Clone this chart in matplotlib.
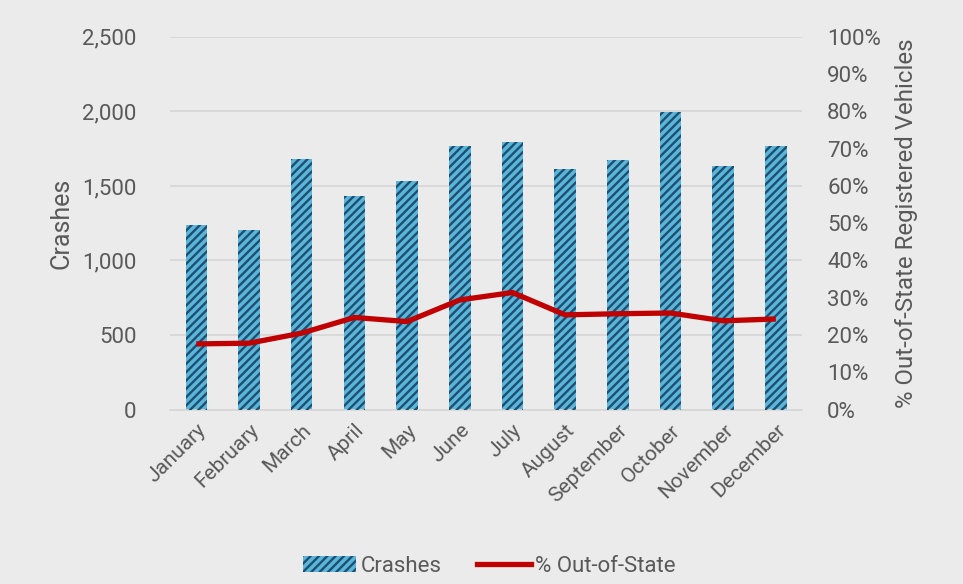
import matplotlib
matplotlib.use("Agg")
import matplotlib.pyplot as plt
from matplotlib.patches import Patch
from matplotlib.lines import Line2D
from matplotlib.ticker import FuncFormatter, MultipleLocator

months = ["January", "February", "March", "April", "May", "June", "July",
          "August", "September", "October", "November", "December"]
crashes = [1237, 1203, 1678, 1431, 1534, 1770, 1796, 1613, 1673, 1998, 1635, 1770]
pct_out_of_state = [17.6, 17.8, 20.5, 24.7, 23.6, 29.4, 31.4, 25.4, 25.7, 25.9, 23.8, 24.3]

BG = "#ebebeb"
TEXT = "#595959"
BAR_FACE = "#5bb5da"
BAR_HATCH = "#1d4f6f"
LINE = "#c00000"
GRID = "#d6d6d6"

plt.rcParams["font.family"] = ["Roboto", "DejaVu Sans"]
plt.rcParams["hatch.linewidth"] = 1.7

fig = plt.figure(figsize=(9.63, 5.84), dpi=100, facecolor=BG)
ax = fig.add_axes([0.1765, 0.2988, 0.6565, 0.638])
ax.set_facecolor(BG)

x = list(range(len(months)))
ax.bar(x, crashes, width=0.41, color=BAR_FACE, linewidth=0, zorder=2)
ax.bar(x, crashes, width=0.41, facecolor="none", edgecolor=BAR_HATCH,
       hatch="////", linewidth=0, zorder=3)

ax.set_xlim(-0.5, len(months) - 0.5)
ax.set_ylim(0, 2500)
ax.yaxis.set_major_locator(MultipleLocator(500))
ax.yaxis.set_major_formatter(FuncFormatter(lambda v, p: f"{int(v):,}"))
ax.grid(axis="y", color=GRID, linewidth=1.2, zorder=0)
ax.set_axisbelow(True)
for s in ["top", "left", "right"]:
    ax.spines[s].set_visible(False)
ax.spines["bottom"].set_color(GRID)
ax.spines["bottom"].set_linewidth(1.2)

ax.set_xticks(x)
ax.set_xticklabels(months, rotation=45, ha="right", rotation_mode="anchor")
ax.tick_params(axis="x", length=0, pad=8, labelsize=15, labelcolor=TEXT)
ax.tick_params(axis="y", length=0, pad=24, labelsize=16, labelcolor=TEXT)
ax.set_ylabel("Crashes", fontsize=18, color=TEXT, labelpad=6)

ax2 = ax.twinx()
ax2.plot(x, pct_out_of_state, color=LINE, linewidth=3.8, zorder=5,
         solid_joinstyle="round", solid_capstyle="butt")
ax2.set_ylim(0, 100)
ax2.yaxis.set_major_locator(MultipleLocator(10))
ax2.yaxis.set_major_formatter(FuncFormatter(lambda v, p: f"{int(v)}%"))
ax2.tick_params(axis="y", length=0, pad=18, labelsize=16, labelcolor=TEXT)
for s in ax2.spines.values():
    s.set_visible(False)
ax2.set_ylabel("% Out-of-State Registered Vehicles", fontsize=17.3,
               color=TEXT, labelpad=10)

handles = [
    Patch(facecolor=BAR_FACE, edgecolor=BAR_HATCH, hatch="////", linewidth=0,
          label="Crashes"),
    Line2D([0], [0], color=LINE, linewidth=3.8, label="% Out-of-State"),
]
fig.legend(handles=handles, loc="center", bbox_to_anchor=(0.508, 0.030),
           ncol=2, frameon=False, fontsize=16, labelcolor=TEXT,
           handlelength=2.4, handleheight=0.7, handletextpad=0.2,
           columnspacing=1.6)

fig.savefig("out.png", dpi=100, facecolor=BG)
